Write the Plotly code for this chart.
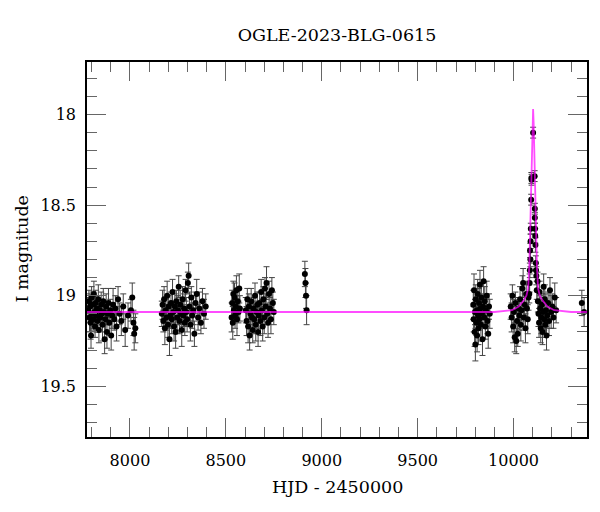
import plotly.graph_objects as go

# ---- data (HJD-2450000, I mag, error) ----
t1 = [7782, 7786, 7789, 7792, 7795, 7797, 7800, 7803, 7806, 7809, 7812, 7815, 7818, 7821, 7824,
      7828, 7831, 7835, 7838, 7842, 7846, 7850, 7853, 7857, 7861, 7865, 7868, 7872, 7876, 7880,
      7884, 7888, 7892, 7897, 7902, 7907, 7912, 7918, 7924, 7930, 7938, 7946, 7955, 7965, 7975,
      7990, 8005, 8012, 8018, 8022, 8028]
m1 = [19.08, 19.03, 19.12, 19.06, 19.15, 19.22, 19.01, 19.10, 19.05, 19.13, 18.99, 19.09, 19.17, 19.04, 19.11,
      19.07, 19.14, 19.02, 19.19, 19.08, 19.12, 19.05, 19.10, 19.16, 19.03, 19.09, 19.24, 19.13, 19.06, 19.20,
      19.10, 19.04, 19.15, 19.08, 19.22, 19.11, 19.05, 19.13, 19.07, 19.17, 19.02, 19.10, 19.14, 19.06, 19.19,
      19.11, 19.08, 19.01, 19.15, 19.21, 19.18]
e1 = [0.07, 0.06, 0.08, 0.07, 0.09, 0.07, 0.06, 0.08, 0.07, 0.06, 0.07, 0.08, 0.06, 0.07, 0.09,
      0.07, 0.06, 0.08, 0.07, 0.06, 0.08, 0.07, 0.06, 0.09, 0.07, 0.06, 0.08, 0.07, 0.07, 0.09,
      0.06, 0.08, 0.07, 0.06, 0.08, 0.07, 0.09, 0.06, 0.07, 0.08, 0.07, 0.06, 0.08, 0.07, 0.09,
      0.07, 0.06, 0.08, 0.07, 0.09, 0.08]

t2 = [8166, 8170, 8174, 8178, 8182, 8186, 8190, 8194, 8198, 8202, 8206, 8210, 8214, 8218, 8222,
      8226, 8230, 8234, 8238, 8242, 8246, 8250, 8254, 8258, 8262, 8266, 8270, 8274, 8278, 8282,
      8286, 8290, 8294, 8298, 8302, 8306, 8310, 8315, 8320, 8325, 8330, 8336, 8342, 8348, 8355,
      8362, 8370, 8378, 8386, 8395]
m2 = [19.10, 19.05, 19.14, 19.02, 19.18, 19.08, 19.12, 19.00, 19.16, 19.06, 19.24, 19.11, 19.04, 19.13, 18.98,
      19.09, 19.17, 19.06, 19.20, 19.03, 19.12, 19.08, 18.95, 19.14, 19.05, 19.10, 19.19, 19.02, 19.11, 19.07,
      19.15, 18.97, 19.09, 19.13, 18.93, 18.89, 19.06, 19.16, 19.01, 19.11, 19.08, 19.21, 19.04, 18.99, 19.12,
      19.07, 19.15, 19.03, 19.10, 19.06]
e2 = [0.07, 0.08, 0.06, 0.07, 0.09, 0.06, 0.07, 0.08, 0.07, 0.06, 0.09, 0.07, 0.06, 0.08, 0.07,
      0.06, 0.08, 0.07, 0.09, 0.06, 0.07, 0.08, 0.06, 0.07, 0.08, 0.06, 0.09, 0.07, 0.06, 0.08,
      0.07, 0.06, 0.08, 0.07, 0.06, 0.07, 0.08, 0.09, 0.06, 0.07, 0.08, 0.07, 0.06, 0.08, 0.07,
      0.09, 0.06, 0.07, 0.08, 0.07]

t3 = [8530, 8533, 8536, 8539, 8542, 8545, 8548, 8551, 8555, 8558, 8562, 8566, 8570, 8573,
      8604, 8608, 8612, 8616, 8620, 8624, 8628, 8632, 8636, 8640, 8644, 8648, 8652, 8656, 8660,
      8664, 8668, 8672, 8676, 8680, 8684, 8688, 8692, 8696, 8700, 8704, 8708, 8712, 8716, 8720,
      8725, 8730, 8735, 8740, 8745, 8750]
m3 = [19.12, 19.04, 19.15, 18.99, 19.08, 19.01, 19.11, 19.06, 18.97, 19.13, 19.03, 19.09, 18.96, 19.07,
      19.08, 19.14, 19.02, 19.17, 19.06, 19.22, 19.10, 19.03, 19.12, 19.19, 19.07, 19.13, 19.00, 19.16, 19.09,
      19.05, 19.20, 19.11, 19.04, 19.14, 18.98, 19.08, 19.17, 19.02, 19.12, 18.96, 19.06, 18.93, 19.10, 19.15,
      18.99, 19.07, 19.13, 18.97, 19.04, 19.09]
e3 = [0.08, 0.07, 0.09, 0.07, 0.06, 0.08, 0.07, 0.06, 0.08, 0.09, 0.07, 0.06, 0.08, 0.07,
      0.07, 0.08, 0.06, 0.09, 0.07, 0.08, 0.06, 0.07, 0.08, 0.07, 0.06, 0.08, 0.07, 0.09, 0.06,
      0.07, 0.08, 0.07, 0.06, 0.08, 0.07, 0.06, 0.08, 0.07, 0.09, 0.06, 0.07, 0.09, 0.06, 0.08,
      0.07, 0.06, 0.08, 0.07, 0.06, 0.07]

t4 = [8912, 8915, 8918, 8921]
m4 = [18.88, 18.93, 19.00, 19.08]
e4 = [0.07, 0.08, 0.07, 0.08]

t5 = [9790, 9792, 9794, 9797, 9799, 9801, 9803, 9806, 9808, 9810, 9813, 9815, 9817, 9820, 9822,
      9825, 9827, 9830, 9832, 9835, 9838, 9841, 9844, 9847, 9850, 9853, 9856, 9860, 9864, 9868,
      9872, 9876]
m5 = [19.05, 19.13, 18.97, 19.20, 19.09, 19.27, 19.02, 19.15, 19.08, 19.22, 18.99, 19.11, 19.18, 19.04, 19.13,
      18.94, 19.07, 19.16, 19.01, 19.10, 19.24, 19.06, 18.92, 19.12, 19.03, 19.17, 19.08, 19.00, 19.14, 19.21,
      19.06, 19.10]
e5 = [0.08, 0.07, 0.09, 0.08, 0.07, 0.09, 0.08, 0.07, 0.06, 0.09, 0.08, 0.07, 0.09, 0.08, 0.06,
      0.08, 0.07, 0.09, 0.08, 0.07, 0.09, 0.07, 0.08, 0.06, 0.08, 0.07, 0.09, 0.08, 0.07, 0.08,
      0.07, 0.08]

t6 = [9985, 9990, 9994, 9998, 10002, 10006, 10010, 10014, 10018, 10022, 10026, 10030, 10034, 10038,
      10042, 10046, 10050, 10054, 10058, 10062, 10066, 10070, 10074, 10078,
      10082, 10084, 10085, 10086, 10088, 10089, 10090, 10092, 10093, 10094, 10102, 10110, 10111, 10111,
      10112, 10113, 10114, 10116, 10117, 10119, 10121, 10125,
      10127, 10130, 10133, 10136, 10139, 10142, 10145, 10148, 10151, 10154, 10157, 10160, 10163, 10166,
      10169, 10172, 10176, 10180, 10185, 10190, 10196, 10202, 10208, 10215, 10222]
m6 = [19.06, 19.12, 19.00, 19.17, 19.09, 19.23, 19.04, 19.25, 19.14, 19.21, 19.07, 19.11, 19.02, 19.16,
      19.08, 18.96, 18.93, 19.12, 19.05, 19.18, 18.99, 19.07, 19.13, 19.01,
      18.99, 18.93, 18.86, 18.75, 18.80, 18.70, 18.63, 18.47, 18.35, 18.36, 18.10, 18.34, 18.52, 18.57,
      18.63, 18.67, 18.72, 18.82, 18.86, 18.89, 18.97, 18.92,
      19.03, 19.10, 19.15, 18.98, 19.07, 19.18, 19.12, 19.05, 19.20, 19.09, 18.95, 19.13, 19.02, 19.16,
      19.08, 19.22, 19.11, 19.04, 19.14, 18.97, 19.09, 19.06, 19.12, 19.01, 19.08]
e6 = [0.07, 0.08, 0.06, 0.09, 0.07, 0.08, 0.06, 0.07, 0.08, 0.07, 0.06, 0.08, 0.07, 0.09,
      0.06, 0.07, 0.08, 0.07, 0.06, 0.08, 0.07, 0.06, 0.08, 0.07,
      0.05, 0.05, 0.04, 0.04, 0.04, 0.04, 0.03, 0.03, 0.03, 0.03, 0.03, 0.03, 0.03, 0.03,
      0.03, 0.04, 0.04, 0.04, 0.04, 0.05, 0.05, 0.05,
      0.06, 0.07, 0.08, 0.06, 0.07, 0.08, 0.09, 0.06, 0.07, 0.08, 0.07, 0.06, 0.08, 0.07,
      0.09, 0.08, 0.07, 0.06, 0.08, 0.07, 0.09, 0.07, 0.06, 0.08, 0.07]

t7 = [10356, 10368]
m7 = [19.04, 19.09]
e7 = [0.07, 0.08]

# model curve
model_t = [7776, 9900, 9992, 10027, 10050, 10067, 10076, 10082, 10086, 10090, 10093, 10096, 10099,
           10102, 10105, 10108, 10111, 10114, 10118, 10122, 10128, 10137, 10154, 10177, 10212, 10300, 10383]
model_m = [19.09, 19.09, 19.08, 19.06, 19.03, 19.00, 18.96, 18.84, 18.67, 18.51, 18.36, 18.20, 18.05,
           17.97, 18.05, 18.20, 18.36, 18.51, 18.67, 18.84, 18.96, 19.00, 19.03, 19.06, 19.08, 19.09, 19.09]

title_text = "OGLE-2023-BLG-0615"
x_title = "HJD - 2450000"
y_title = "I magnitude"

t_all = t1 + t2 + t3 + t4 + t5 + t6 + t7
m_all = m1 + m2 + m3 + m4 + m5 + m6 + m7
e_all = e1 + e2 + e3 + e4 + e5 + e6 + e7

FONT = "DejaVu Serif"

fig = go.Figure()
fig.add_trace(go.Scatter(
    x=t_all, y=m_all, mode="markers",
    marker=dict(color="black", size=6),
    error_y=dict(type="data", array=e_all, visible=True, color="#444444", thickness=1, width=3),
    showlegend=False, hoverinfo="skip"))
fig.add_trace(go.Scatter(
    x=model_t, y=model_m, mode="lines",
    line=dict(color="rgba(255,0,255,0.7)", width=1.8),
    showlegend=False, hoverinfo="skip"))

axis_common = dict(
    showgrid=False, zeroline=False, showline=True, linecolor="black", linewidth=1.5,
    mirror="allticks", ticks="inside", ticklen=19, tickwidth=1, tickcolor="#666666",
    tickfont=dict(family=FONT, size=16, color="black"),
)

fig.update_xaxes(range=[7776, 10383], dtick=500, tick0=0, tickformat="d",
                 minor=dict(dtick=100, ticklen=10, ticks="inside", tickcolor="#666666", tickwidth=1, showgrid=False),
                 ticklabelstandoff=8, **axis_common)
fig.update_yaxes(range=[19.78, 17.71], dtick=0.5, tick0=0,
                 minor=dict(dtick=0.1, ticklen=10, ticks="inside", tickcolor="#666666", tickwidth=1, showgrid=False),
                 ticklabelstandoff=6, **axis_common)

# page has an 8px body offset, so margins are shifted to keep the frame at 87..587 x 62..437
fig.update_layout(
    width=600, height=512,
    margin=dict(l=79, r=21, t=54, b=83),
    paper_bgcolor="white", plot_bgcolor="white",
    title=dict(text=title_text, x=0.5, xref="paper", xanchor="center",
               y=1 - 27 / 512, yref="container", yanchor="middle",
               font=dict(family=FONT, size=17.5, color="black")),
    annotations=[
        dict(text=x_title, xref="paper", yref="paper", x=0.5, y=-50 / 375, xanchor="center",
             yanchor="middle", showarrow=False, font=dict(family=FONT, size=17.5, color="black")),
        dict(text=y_title, xref="paper", yref="paper", x=-66 / 500, y=0.5, xanchor="center",
             yanchor="middle", textangle=-90, showarrow=False, font=dict(family=FONT, size=17.5, color="black")),
    ],
)

fig.write_html("out.html")
